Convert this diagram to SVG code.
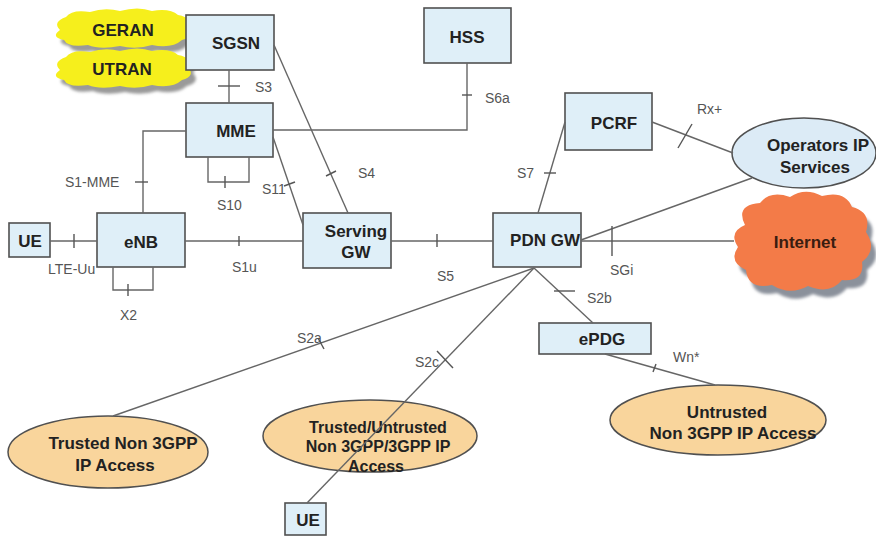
<svg xmlns="http://www.w3.org/2000/svg" width="876" height="537" viewBox="0 0 876 537">
  <defs>
    <style>
      .box { fill: #dfeff8; stroke: #505050; stroke-width: 1.6; }
      .oval-blue { fill: #dcebf6; stroke: #505050; stroke-width: 1.5; }
      .oval-peach { fill: #f9d59c; stroke: #505050; stroke-width: 1.5; }
      .lbl { font-family: "Liberation Sans", Arial, sans-serif; font-weight: bold; font-size: 17px; fill: #222; text-anchor: middle; dominant-baseline: central; }
      .ref { font-family: "Liberation Sans", Arial, sans-serif; font-size: 14px; fill: #555; }
      .ln { fill: none; stroke: #666; stroke-width: 1.4; }
      .tk { stroke: #555; stroke-width: 1.4; }
    </style>
    <filter id="soft" x="-10%" y="-20%" width="120%" height="140%">
      <feGaussianBlur stdDeviation="1.5"/>
    </filter>
    <path id="smallCloud" d="M60,30 Q52,22 66,17 Q72,9 90,12 Q105,7 120,11 Q138,6 152,11 Q170,8 178,15 Q194,18 188,27 Q196,36 182,40 Q172,49 152,45 Q136,50 120,46 Q100,50 88,45 Q68,48 64,40 Q50,37 60,30 Z"/>
    <path id="bigCloud" d="M745,225 Q735,205 760,203 Q770,190 790,197 Q805,187 822,196 Q845,190 852,207 Q872,212 866,232 Q878,250 862,262 Q865,282 842,280 Q830,295 808,286 Q790,296 772,285 Q748,290 746,270 Q728,262 738,247 Q728,232 745,225 Z"/>
  </defs>

  <rect width="876" height="537" fill="#ffffff"/>

  <!-- radio access clouds -->
  <g id="geran">
    <use href="#smallCloud" transform="translate(5,6)" fill="#9a9a9a" filter="url(#soft)"/>
    <use href="#smallCloud" fill="#f6ef1c"/>
    <text class="lbl" x="123" y="30">GERAN</text>
  </g>
  <g id="utran">
    <use href="#smallCloud" transform="translate(5,46)" fill="#9a9a9a" filter="url(#soft)"/>
    <use href="#smallCloud" transform="translate(0,40)" fill="#f6ef1c"/>
    <text class="lbl" x="122" y="69">UTRAN</text>
  </g>

  <!-- core and access nodes -->
  <g id="sgsn">
    <rect class="box" x="186" y="15" width="88" height="55"/>
    <text class="lbl" x="236" y="43">SGSN</text>
  </g>
  <g id="mme">
    <rect class="box" x="186" y="103" width="87" height="54"/>
    <text class="lbl" x="236" y="131">MME</text>
  </g>
  <g id="hss">
    <rect class="box" x="424" y="8" width="87" height="55"/>
    <text class="lbl" x="467" y="37">HSS</text>
  </g>
  <g id="ue1">
    <rect class="box" x="9" y="223" width="41" height="34"/>
    <text class="lbl" x="30" y="241">UE</text>
  </g>
  <g id="enb">
    <rect class="box" x="97" y="213" width="88" height="54"/>
    <text class="lbl" x="141" y="242">eNB</text>
  </g>
  <g id="serving-gw">
    <rect class="box" x="303" y="213" width="88" height="55"/>
    <text class="lbl" x="356" y="231">Serving</text>
    <text class="lbl" x="356" y="252">GW</text>
  </g>
  <g id="pdn-gw">
    <rect class="box" x="493" y="213" width="88" height="54"/>
    <text class="lbl" x="545" y="240">PDN GW</text>
  </g>
  <g id="pcrf">
    <rect class="box" x="565" y="93" width="87" height="57"/>
    <text class="lbl" x="614" y="123">PCRF</text>
  </g>
  <g id="operators-ip">
    <ellipse class="oval-blue" cx="804" cy="153" rx="72" ry="35"/>
    <text class="lbl" x="818" y="145">Operators IP</text>
    <text class="lbl" x="815" y="167">Services</text>
  </g>
  <g id="internet">
    <use href="#bigCloud" transform="translate(5,8)" fill="#8b919b" filter="url(#soft)"/>
    <use href="#bigCloud" fill="#f37b48"/>
    <text class="lbl" x="805" y="242" style="fill:#3a1d10">Internet</text>
  </g>
  <g id="epdg">
    <rect class="box" x="539" y="323" width="112" height="31"/>
    <text class="lbl" x="602" y="339">ePDG</text>
  </g>
  <g id="untrusted">
    <ellipse class="oval-peach" cx="718" cy="420" rx="108" ry="35"/>
    <text class="lbl" x="727" y="412">Untrusted</text>
    <text class="lbl" x="733" y="433">Non 3GPP IP Access</text>
  </g>
  <g id="trusted">
    <ellipse class="oval-peach" cx="108" cy="452" rx="100" ry="36"/>
    <text class="lbl" x="123" y="443">Trusted Non 3GPP</text>
    <text class="lbl" x="115" y="465">IP Access</text>
  </g>
  <g id="trusted-untrusted">
    <ellipse class="oval-peach" cx="370" cy="436" rx="107" ry="36"/>
    <text class="lbl" x="378" y="427" style="font-size:16px">Trusted/Untrusted</text>
    <text class="lbl" x="378" y="446" style="font-size:16px">Non 3GPP/3GPP IP</text>
    <text class="lbl" x="376" y="466" style="font-size:16px">Access</text>
  </g>
  <g id="ue2">
    <rect class="box" x="285" y="503" width="41" height="32"/>
    <text class="lbl" x="308" y="520">UE</text>
  </g>

  <!-- interfaces -->
  <g id="connectors">
    <!-- S3 -->
    <line class="ln" x1="229" y1="70" x2="229" y2="103"/>
    <line class="tk" x1="218" y1="86" x2="240" y2="86"/>
    <!-- S1-MME -->
    <polyline class="ln" points="186,131 143,131 143,213"/>
    <line class="tk" x1="135" y1="182" x2="148" y2="182"/>
    <!-- S10 loop -->
    <polyline class="ln" points="208,157 208,182 249,182 249,157"/>
    <line class="tk" x1="225" y1="176" x2="225" y2="188"/>
    <!-- S11 -->
    <line class="ln" x1="273" y1="137" x2="303" y2="225"/>
    <line class="tk" x1="284" y1="186" x2="295" y2="182"/>
    <!-- S4 -->
    <line class="ln" x1="274" y1="45" x2="348" y2="213"/>
    <line class="tk" x1="326" y1="176" x2="336" y2="171"/>
    <!-- S6a -->
    <polyline class="ln" points="273,130 467,130 467,63"/>
    <line class="tk" x1="462" y1="95" x2="472" y2="95"/>
    <!-- LTE-Uu -->
    <line class="ln" x1="50" y1="241" x2="97" y2="241"/>
    <line class="tk" x1="74" y1="234" x2="74" y2="248"/>
    <!-- X2 loop -->
    <polyline class="ln" points="113,267 113,290 153,290 153,267"/>
    <line class="tk" x1="128" y1="284" x2="128" y2="296"/>
    <!-- S1u -->
    <line class="ln" x1="185" y1="241" x2="303" y2="241"/>
    <line class="tk" x1="239" y1="236" x2="239" y2="246"/>
    <!-- S5 -->
    <line class="ln" x1="391" y1="241" x2="493" y2="241"/>
    <line class="tk" x1="437" y1="234" x2="437" y2="247"/>
    <!-- S7 -->
    <line class="ln" x1="538" y1="213" x2="565" y2="122"/>
    <line class="tk" x1="544" y1="173" x2="556" y2="173"/>
    <!-- Rx+ -->
    <line class="ln" x1="652" y1="122" x2="733" y2="153"/>
    <line class="tk" x1="678" y1="148" x2="692" y2="124"/>
    <!-- PDN GW to operator services -->
    <line class="ln" x1="581" y1="240" x2="752" y2="178"/>
    <!-- SGi -->
    <line class="ln" x1="581" y1="241" x2="734" y2="241"/>
    <line class="tk" x1="612" y1="226" x2="612" y2="256"/>
    <!-- S2b -->
    <line class="ln" x1="534" y1="268" x2="593" y2="323"/>
    <line class="tk" x1="554" y1="291" x2="575" y2="291"/>
    <!-- Wn* -->
    <line class="ln" x1="605" y1="354" x2="715" y2="385"/>
    <line class="tk" x1="653" y1="372" x2="656" y2="364"/>
    <!-- S2a -->
    <line class="ln" x1="534" y1="268" x2="113" y2="416"/>
    <line class="tk" x1="318" y1="338" x2="324" y2="349"/>
    <!-- S2c -->
    <line class="ln" x1="534" y1="268" x2="307" y2="503"/>
    <line class="tk" x1="437" y1="351" x2="453" y2="368"/>
  </g>

  <!-- interface names -->
  <g id="interface-labels">
    <text class="ref" x="255" y="92">S3</text>
    <text class="ref" x="65" y="187">S1-MME</text>
    <text class="ref" x="217" y="210">S10</text>
    <text class="ref" x="262" y="194">S11</text>
    <text class="ref" x="358" y="178">S4</text>
    <text class="ref" x="485" y="103">S6a</text>
    <text class="ref" x="48" y="274">LTE-Uu</text>
    <text class="ref" x="120" y="320">X2</text>
    <text class="ref" x="232" y="272">S1u</text>
    <text class="ref" x="437" y="281">S5</text>
    <text class="ref" x="517" y="178">S7</text>
    <text class="ref" x="697" y="114">Rx+</text>
    <text class="ref" x="610" y="275">SGi</text>
    <text class="ref" x="587" y="303">S2b</text>
    <text class="ref" x="297" y="343">S2a</text>
    <text class="ref" x="415" y="367">S2c</text>
    <text class="ref" x="673" y="362">Wn*</text>
  </g>
</svg>
